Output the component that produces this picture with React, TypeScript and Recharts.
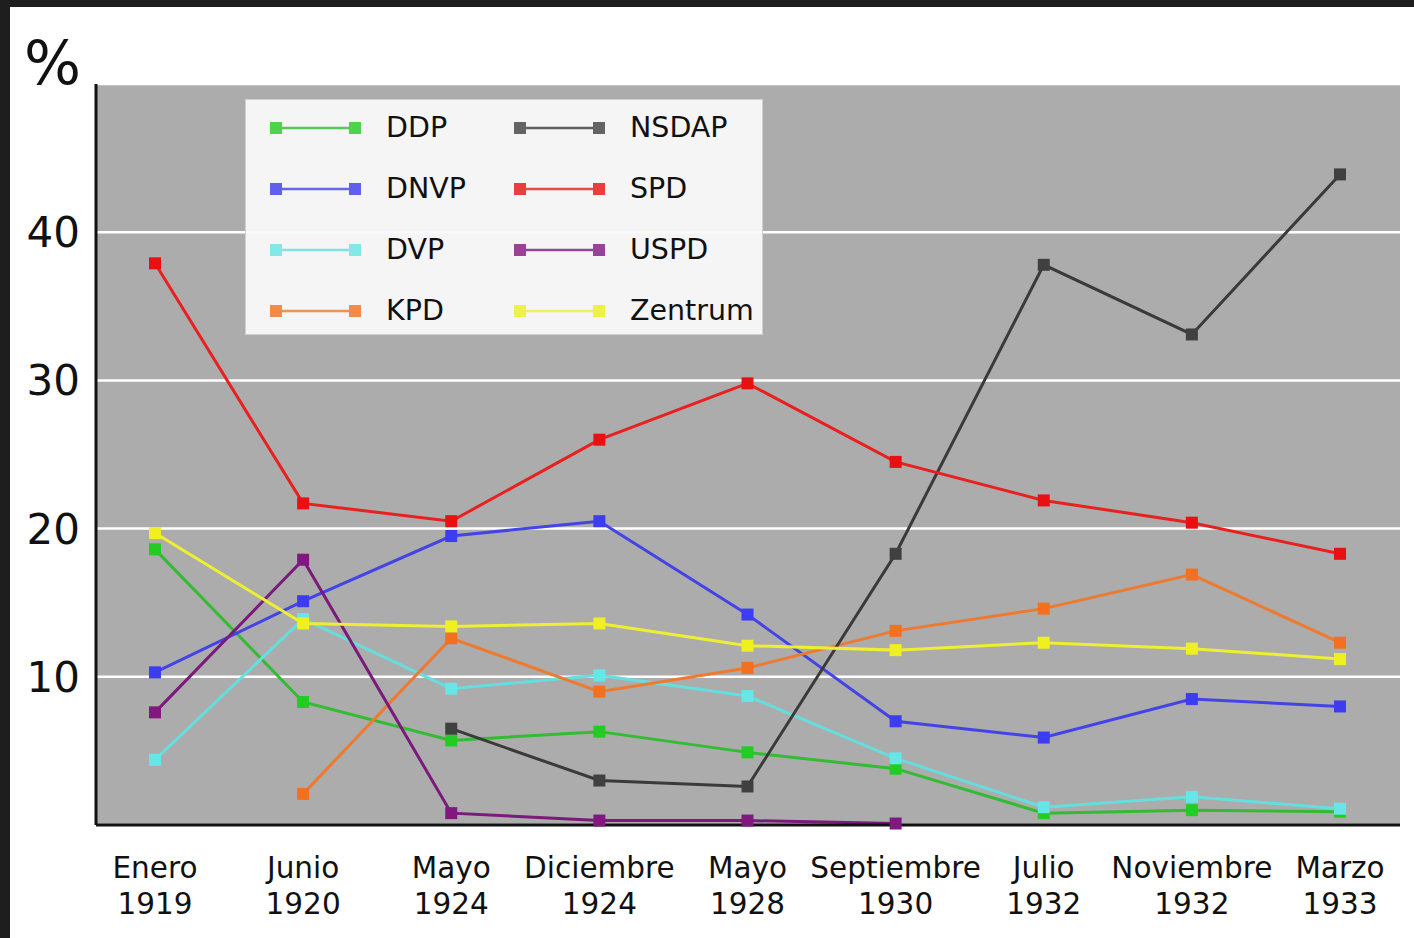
import React from "react";
import { LineChart, Line, XAxis, YAxis, CartesianGrid, Legend } from "recharts";

const periods = ["Enero", "Junio", "Mayo", "Diciembre", "Mayo", "Septiembre", "Julio", "Noviembre", "Marzo"];
const years = ["1919", "1920", "1924", "1924", "1928", "1930", "1932", "1932", "1933"];

const ddp = [18.6, 8.3, 5.7, 6.3, 4.9, 3.8, 0.8, 1.0, 0.9];
const dnvp = [10.3, 15.1, 19.5, 20.5, 14.2, 7.0, 5.9, 8.5, 8.0];
const dvp = [4.4, 13.9, 9.2, 10.1, 8.7, 4.5, 1.2, 1.9, 1.1];
const kpd = [null, 2.1, 12.6, 9.0, 10.6, 13.1, 14.6, 16.9, 12.3];
const nsdap = [null, null, 6.5, 3.0, 2.6, 18.3, 37.8, 33.1, 43.9];
const spd = [37.9, 21.7, 20.5, 26.0, 29.8, 24.5, 21.9, 20.4, 18.3];
const uspd = [7.6, 17.9, 0.8, 0.3, 0.3, 0.1, null, null, null];
const zentrum = [19.7, 13.6, 13.4, 13.6, 12.1, 11.8, 12.3, 11.9, 11.2];

const yTicks = [10, 20, 30, 40];

const series = [
  { key: "DDP", values: ddp, color: "#33bb33", marker: "#22cc22" },
  { key: "DNVP", values: dnvp, color: "#4444e6", marker: "#3c3cf0" },
  { key: "DVP", values: dvp, color: "#66dede", marker: "#66e6e6" },
  { key: "KPD", values: kpd, color: "#ee7a30", marker: "#f27020" },
  { key: "NSDAP", values: nsdap, color: "#3a3a3a", marker: "#404040" },
  { key: "SPD", values: spd, color: "#e82020", marker: "#e81010" },
  { key: "USPD", values: uspd, color: "#7a1a7a", marker: "#801880" },
  { key: "Zentrum", values: zentrum, color: "#eeee33", marker: "#f0f020" },
];

const data = periods.map((p, i) => {
  const row: Record<string, any> = { label: p + "\n" + years[i] };
  series.forEach((s) => {
    row[s.key] = s.values[i];
  });
  return row;
});

const FONT = "'DejaVu Sans', sans-serif";

const XTick = (props: any) => {
  const { x, y, payload } = props;
  const [a, b] = String(payload.value).split("\n");
  return (
    <text x={x} y={y} textAnchor="middle" fontFamily={FONT} fontSize={29.5} fill="#111">
      <tspan x={x} dy={51}>{a}</tspan>
      <tspan x={x} dy={36}>{b}</tspan>
    </text>
  );
};

const squareDot = (fill: string) => (props: any) => {
  const { cx, cy, index } = props;
  if (cx == null || cy == null || props.value == null) return <g key={index} />;
  return <rect key={index} x={cx - 6} y={cy - 6} width={12} height={12} fill={fill} />;
};

const LegendBox = () => {
  const cols = [series.slice(0, 4), series.slice(4)];
  return (
    <div
      style={{
        width: 516,
        height: 234,
        background: "rgba(250,250,250,0.94)",
        border: "1px solid #d0d0d0",
        position: "relative",
        fontFamily: FONT,
        fontSize: 28.5,
        color: "#111",
      }}
    >
      {cols.map((col, ci) =>
        col.map((s, ri) => (
          <div
            key={s.key}
            style={{
              position: "absolute",
              left: 21 + ci * 244,
              top: 28 + ri * 61 - 18,
              height: 36,
              display: "flex",
              alignItems: "center",
            }}
          >
            <svg width={100} height={36} style={{ opacity: 0.8 }}>
              <line x1={8} y1={18} x2={88} y2={18} stroke={s.color} strokeWidth={2.5} />
              <rect x={3} y={12} width={12} height={12} fill={s.marker} />
              <rect x={82} y={12} width={12} height={12} fill={s.marker} />
            </svg>
            <span style={{ marginLeft: 19, lineHeight: "36px" }}>{s.key}</span>
          </div>
        ))
      )}
    </div>
  );
};

export default function App() {
  return (
    <div style={{ position: "absolute", left: 0, top: 0, width: 1414, height: 938, background: "#1e1e1e" }}>
      <div style={{ position: "absolute", left: 10, top: 7, width: 1404, height: 931, background: "#ffffff" }} />
      <div
        style={{
          position: "absolute",
          left: 24,
          top: 30,
          fontFamily: FONT,
          fontSize: 60,
          color: "#111",
          lineHeight: "66px",
        }}
      >
        %
      </div>
      <div style={{ position: "absolute", left: 0, top: 0 }}>
        <LineChart width={1414} height={938} data={data} margin={{ top: 84, right: 14, bottom: 0, left: 0 }}>
          <CartesianGrid horizontal vertical={false} stroke="#ffffff" strokeWidth={2.5} fill="#acacac" fillOpacity={1} />
          <XAxis
            dataKey="label"
            interval={0}
            height={113}
            padding={{ left: 59, right: 60 }}
            tickLine={false}
            tickSize={0}
            axisLine={{ stroke: "#111", strokeWidth: 3 }}
            tick={<XTick />}
          />
          <YAxis
            type="number"
            domain={[0, 50]}
            ticks={yTicks}
            width={96}
            tickLine={false}
            tickSize={0}
            tickMargin={16}
            axisLine={{ stroke: "#111", strokeWidth: 3 }}
            tick={{ fontFamily: FONT, fontSize: 42, fill: "#111" }}
          />
          <Legend
            layout="horizontal"
            verticalAlign="middle"
            align="center"
            content={<LegendBox />}
            wrapperStyle={{ left: 245, top: 99, width: 518, height: 236 }}
          />
          {series.map((s) => (
            <Line
              key={s.key}
              dataKey={s.key}
              type="linear"
              stroke={s.color}
              strokeWidth={3}
              dot={squareDot(s.marker)}
              activeDot={false}
              isAnimationActive={false}
              legendType="none"
            />
          ))}
        </LineChart>
      </div>
    </div>
  );
}
